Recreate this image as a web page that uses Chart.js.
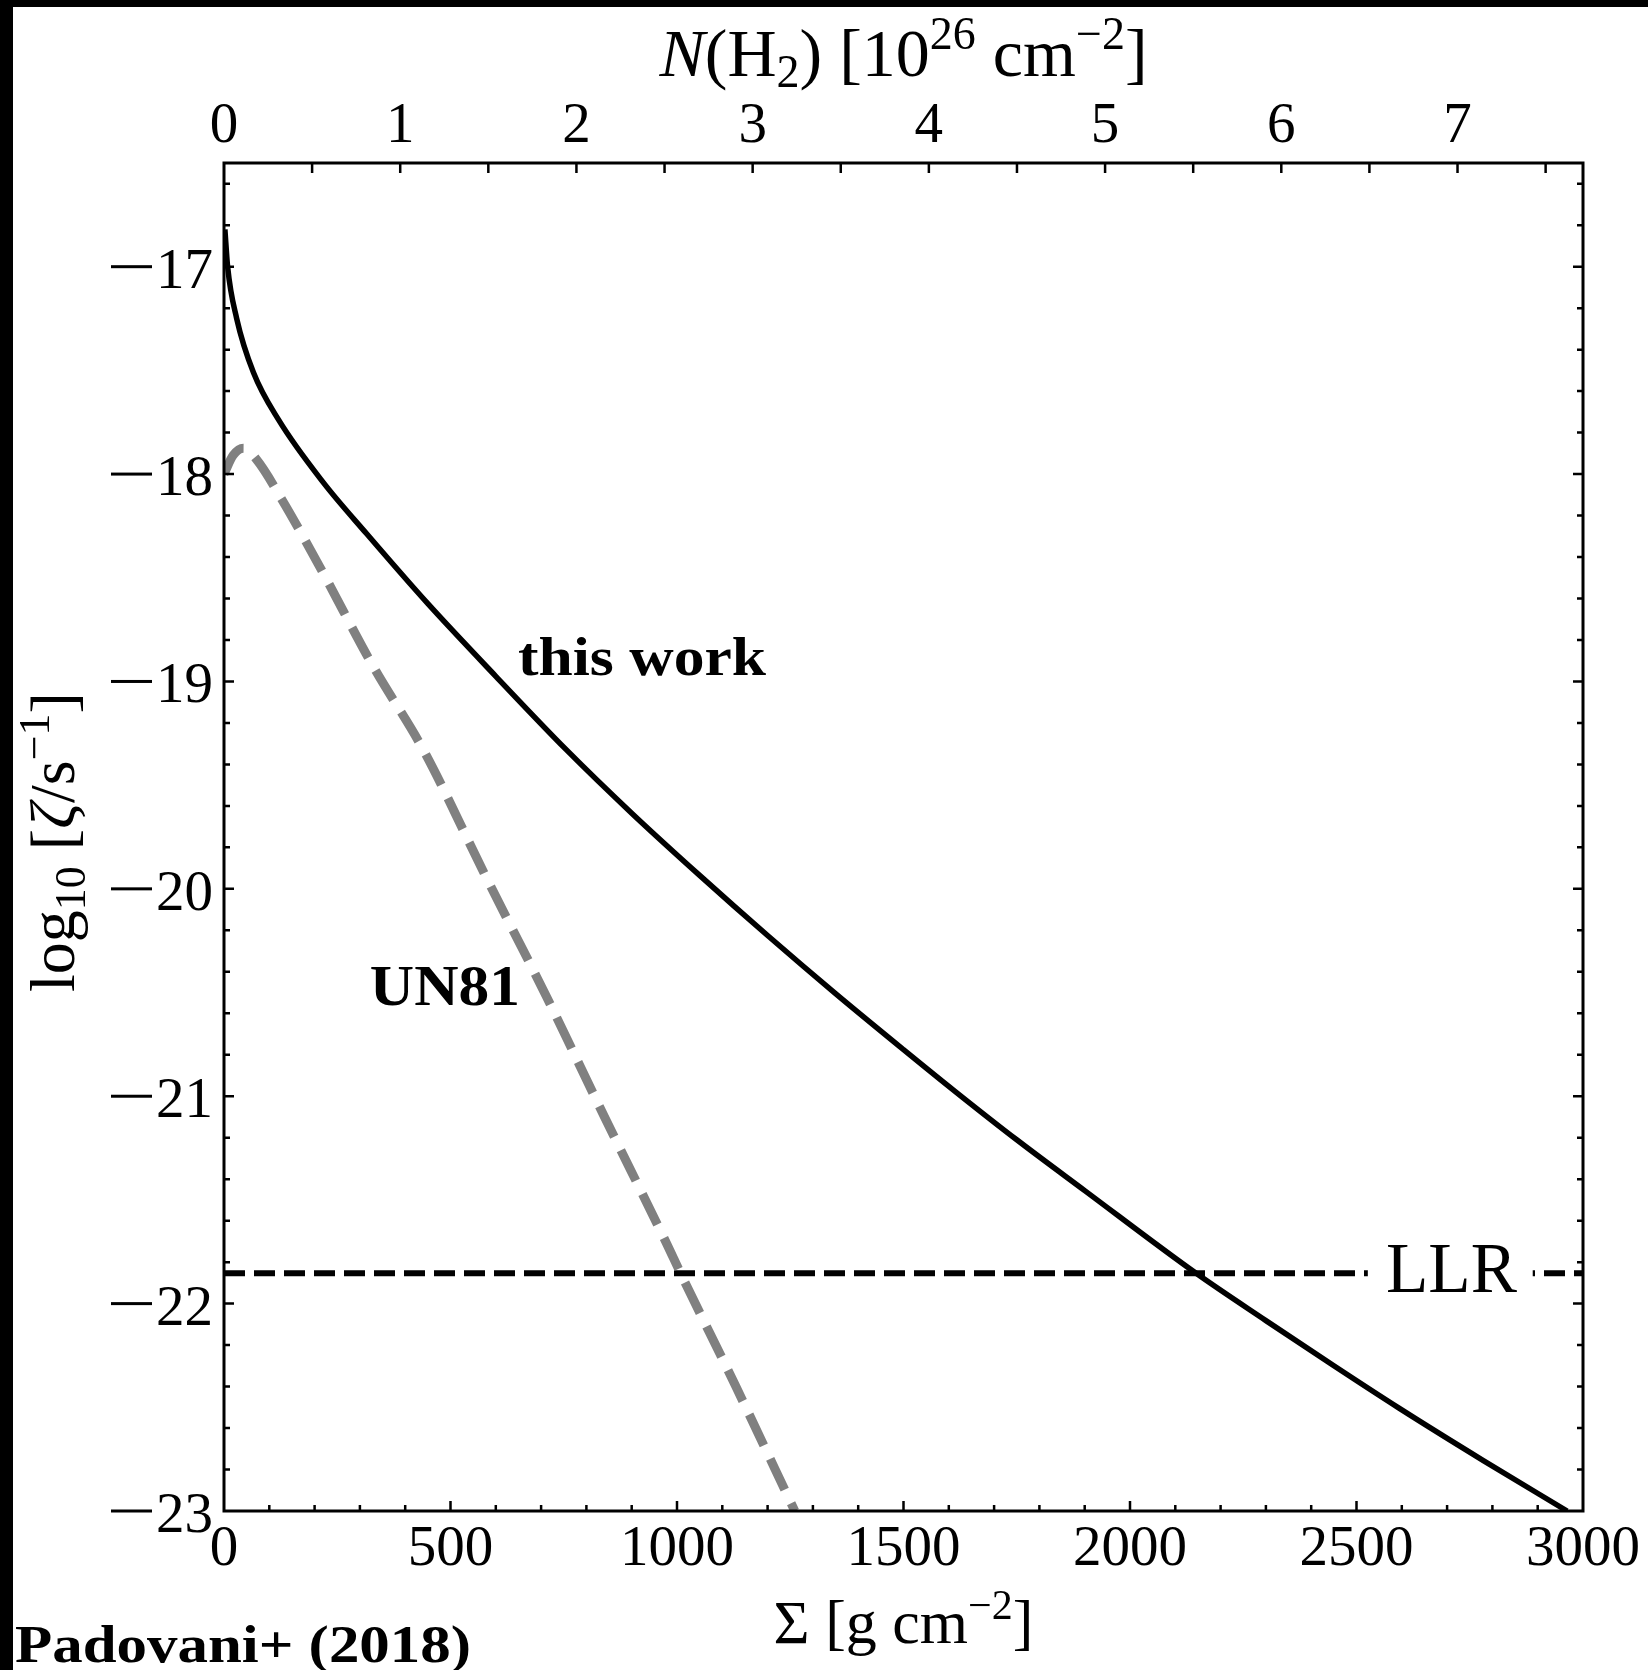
<!DOCTYPE html>
<html>
<head>
<meta charset="utf-8">
<title>Ionisation rate vs surface density</title>
<script src="https://cdn.jsdelivr.net/npm/chart.js@4.4.1/dist/chart.umd.min.js"></script>
<style>
  html, body { margin: 0; padding: 0; background: #fff; overflow: hidden; }
  #wrap { width: 1648px; height: 1670px; }
</style>
</head>
<body>
<div id="wrap"><canvas id="zetaChart" width="1648" height="1670"></canvas></div>
<script>
"use strict";

// Padovani+ (2018) model: surface density [g cm^-2] vs log10 ionisation rate
const thisWorkSigma = [2, 8, 28, 65, 121, 219, 315, 450, 600, 756, 900, 1050, 1200, 1350, 1500, 1613, 1750, 1900, 2146, 2300, 2450, 2593, 2780, 2965];
const thisWorkLogZeta = [-16.82, -17.0, -17.25, -17.51, -17.74, -18.04, -18.288, -18.625, -18.975, -19.33, -19.635, -19.935, -20.225, -20.505, -20.775, -20.975, -21.21, -21.455, -21.854, -22.082, -22.30, -22.503, -22.757, -23.0];

// Umebayashi & Nakano (1981)
const un81Sigma = [0, 20, 43, 72, 127, 212, 330, 440, 580, 712, 840, 977, 1008, 1130, 1260];
const un81LogZeta = [-18.0, -17.91, -17.875, -17.93, -18.12, -18.45, -18.93, -19.33, -19.95, -20.52, -21.10, -21.71, -21.854, -22.40, -23.0];

// long-lived radionuclides floor
const llrLogZeta = -21.854;

// axes
const sigmaTicks = [0, 500, 1000, 1500, 2000, 2500, 3000];
const logZetaTicks = [-23, -22, -21, -20, -19, -18, -17];
const nH2Ticks = [0, 1, 2, 3, 4, 5, 6, 7];
const SIGMA_MIN = 0, SIGMA_MAX = 3000;
const LOGZ_MIN = -23, LOGZ_MAX = -16.5;
const SIGMA_PER_NH2 = 389; // g cm^-2 per 10^26 H2 cm^-2

const SERIF = '"Liberation Serif", "DejaVu Serif", serif';
const TICK_FONT = '57px ' + SERIF;

function toPoints(xs, ys) {
    return xs.map((x, i) => ({ x: x, y: ys[i] }));
}

// draw a run of text pieces [text, font, dy] as one line
function richText(ctx, parts, x, y, align) {
    let width = 0;
    parts.forEach(p => { ctx.font = p[1]; width += ctx.measureText(p[0]).width; });
    let cx = align === 'center' ? x - width / 2 : x;
    ctx.textAlign = 'left';
    ctx.textBaseline = 'alphabetic';
    parts.forEach(p => {
        ctx.font = p[1];
        ctx.fillText(p[0], cx, y + (p[2] || 0));
        cx += ctx.measureText(p[0]).width;
    });
}

// text squeezed / widened to a given width
function wideText(ctx, text, x, y, font, width) {
    ctx.font = font;
    ctx.textAlign = 'left';
    ctx.textBaseline = 'alphabetic';
    const w = ctx.measureText(text).width;
    ctx.save();
    ctx.translate(x, y);
    ctx.scale(width / w, 1);
    ctx.fillText(text, 0, 0);
    ctx.restore();
}

const decorations = {
    id: 'decorations',
    beforeDraw(chart) {
        const ctx = chart.ctx;
        ctx.save();
        ctx.fillStyle = '#fff';
        ctx.fillRect(0, 0, chart.width, chart.height);
        ctx.fillStyle = '#000';
        ctx.fillRect(0, 0, chart.width, 7);
        ctx.fillRect(0, 0, 13, chart.height);
        ctx.restore();
    },
    afterDatasetsDraw(chart) {
        const ctx = chart.ctx;
        const xs = chart.scales.x, ys = chart.scales.y;
        ctx.save();

        // LLR label sits in a white box on top of the dashed line
        const yL = ys.getPixelForValue(llrLogZeta);
        const bx0 = xs.getPixelForValue(2525), bx1 = xs.getPixelForValue(2889);
        ctx.fillStyle = '#fff';
        ctx.fillRect(bx0, yL - 22, bx1 - bx0, 44);
        ctx.fillStyle = '#000';
        wideText(ctx, 'LLR', xs.getPixelForValue(2565), yL + 19, '72px ' + SERIF, 131);

        wideText(ctx, 'this work', xs.getPixelForValue(649), ys.getPixelForValue(-18.968), 'bold 54px ' + SERIF, 248);
        wideText(ctx, 'UN81', xs.getPixelForValue(322), ys.getPixelForValue(-20.56), 'bold 56px ' + SERIF, 150);
        ctx.restore();
    },
    afterDraw(chart) {
        const ctx = chart.ctx;
        const a = chart.chartArea;
        const xs = chart.scales.x, ys = chart.scales.y, xt = chart.scales.x2;
        ctx.save();
        ctx.strokeStyle = '#000';
        ctx.fillStyle = '#000';

        // ticks, all pointing inwards
        ctx.lineWidth = 2.5;
        ctx.beginPath();
        for (let s = SIGMA_MIN + 100; s < SIGMA_MAX; s += 100) {
            const px = xs.getPixelForValue(s);
            const len = s % 500 === 0 ? 10 : 6;
            ctx.moveTo(px, a.bottom);
            ctx.lineTo(px, a.bottom - len);
        }
        for (let k = 1; k < 33; k++) {
            const v = LOGZ_MIN + 0.2 * k;
            const py = ys.getPixelForValue(v);
            const len = Math.abs(v - Math.round(v)) < 1e-6 ? 10 : 6;
            ctx.moveTo(a.left, py);
            ctx.lineTo(a.left + len, py);
            ctx.moveTo(a.right, py);
            ctx.lineTo(a.right - len, py);
        }
        for (let n = 0.5; n < SIGMA_MAX / SIGMA_PER_NH2; n += 0.5) {
            const px = xt.getPixelForValue(n);
            ctx.moveTo(px, a.top);
            ctx.lineTo(px, a.top + 10);
        }
        ctx.stroke();

        ctx.lineWidth = 3;
        ctx.strokeRect(a.left, a.top, a.right - a.left, a.bottom - a.top);

        // tick labels
        ctx.font = TICK_FONT;
        ctx.textBaseline = 'alphabetic';
        ctx.textAlign = 'center';
        sigmaTicks.forEach(s => ctx.fillText(String(s), xs.getPixelForValue(s), a.bottom + 54));
        nH2Ticks.forEach(n => ctx.fillText(String(n), xt.getPixelForValue(n), a.top - 21));
        ctx.textAlign = 'right';
        logZetaTicks.forEach(v => {
            const py = ys.getPixelForValue(v);
            const digits = String(Math.abs(v));
            const right = a.left - 11;
            ctx.fillText(digits, right, py + 21);
            // long math minus in front of the digits
            const left = right - ctx.measureText(digits).width;
            ctx.fillRect(left - 45, py - 1.5, 41, 3);
        });

        // axis titles
        const cx = (a.left + a.right) / 2;
        const T = '62px ' + SERIF, S = '42px ' + SERIF;
        richText(ctx, [
            ['\u03A3 [g cm', T], ['\u22122', S, -24], [']', T]
        ], cx, 1643, 'center');

        const TT = '68px ' + SERIF, TS = '46px ' + SERIF;
        richText(ctx, [
            ['N', 'italic ' + TT], ['(H', TT], ['2', TS, 11], [') [10', TT],
            ['26', TS, -27], [' cm', TT], ['\u22122', TS, -27], [']', TT]
        ], cx, 76, 'center');

        const YT = '64px ' + SERIF, YS = '44px ' + SERIF;
        ctx.save();
        ctx.translate(74, (a.top + a.bottom) / 2 + 5);
        ctx.rotate(-Math.PI / 2);
        richText(ctx, [
            ['log', YT], ['10', YS, 11], [' [', YT], ['\u03B6', 'italic ' + YT],
            ['/s', YT], ['\u22121', YS, -25], [']', YT]
        ], 0, 0, 'center');
        ctx.restore();

        wideText(ctx, 'Padovani+ (2018)', 15, 1662, 'bold 53px ' + SERIF, 456);
        ctx.restore();
    }
};

const chart = new Chart(document.getElementById('zetaChart'), {
    type: 'line',
    data: {
        datasets: [
            {
                label: 'this work',
                data: toPoints(thisWorkSigma, thisWorkLogZeta),
                borderColor: '#000',
                borderWidth: 5.5,
                pointRadius: 0,
                fill: false,
                cubicInterpolationMode: 'monotone',
                xAxisID: 'x',
                yAxisID: 'y'
            },
            {
                label: 'UN81',
                data: toPoints(un81Sigma, un81LogZeta),
                borderColor: '#808080',
                borderWidth: 9,
                borderDash: [34, 15],
                pointRadius: 0,
                fill: false,
                cubicInterpolationMode: 'monotone',
                xAxisID: 'x',
                yAxisID: 'y'
            },
            {
                label: 'LLR',
                data: toPoints([SIGMA_MIN, SIGMA_MAX], [llrLogZeta, llrLogZeta]),
                borderColor: '#000',
                borderWidth: 6,
                borderDash: [21, 9],
                pointRadius: 0,
                fill: false,
                xAxisID: 'x',
                yAxisID: 'y'
            }
        ]
    },
    options: {
        responsive: false,
        devicePixelRatio: 1,
        animation: false,
        layout: { padding: { left: 0, right: 65, top: 0, bottom: 0 } },
        plugins: {
            legend: { display: false },
            tooltip: { enabled: false }
        },
        scales: {
            x: {
                type: 'linear',
                position: 'bottom',
                min: SIGMA_MIN,
                max: SIGMA_MAX,
                ticks: { display: false },
                grid: { display: false, drawTicks: false },
                border: { display: false },
                afterFit: function (scale) { scale.height = 159; }
            },
            x2: {
                type: 'linear',
                position: 'top',
                min: 0,
                max: SIGMA_MAX / SIGMA_PER_NH2,
                ticks: { display: false },
                grid: { display: false, drawTicks: false },
                border: { display: false },
                afterFit: function (scale) { scale.height = 163; }
            },
            y: {
                type: 'linear',
                position: 'left',
                min: LOGZ_MIN,
                max: LOGZ_MAX,
                ticks: { display: false },
                grid: { display: false, drawTicks: false },
                border: { display: false },
                afterFit: function (scale) { scale.width = 224; }
            }
        }
    },
    plugins: [decorations]
});
</script>
</body>
</html>
